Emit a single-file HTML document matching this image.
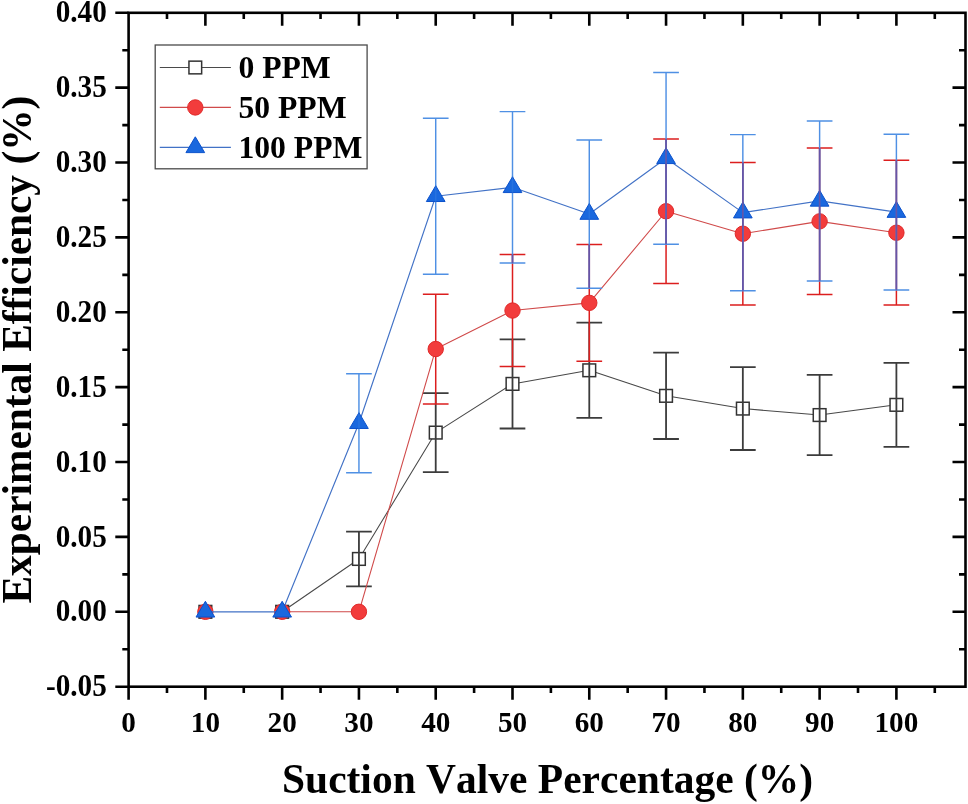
<!DOCTYPE html>
<html><head><meta charset="utf-8"><title>Chart</title><style>
html,body{margin:0;padding:0;background:#fff;}
body{width:968px;height:804px;overflow:hidden;}
svg{display:block;will-change:transform;}
text{font-family:"Liberation Serif",serif;font-weight:bold;fill:#000;font-variant-ligatures:none;font-kerning:none;font-feature-settings:"liga" 0,"clig" 0;}
</style></head><body>
<svg width="968" height="804" viewBox="0 0 968 804">
<rect width="968" height="804" fill="#fff"/>
<polyline points="282.16,611.8 358.94,558.95 435.72,432.6 512.5,383.9 589.28,370.3 666.06,395.85 742.84,408.6 819.62,415.05 896.4,404.85" fill="none" stroke="#484848" stroke-width="1.05" stroke-linejoin="round"/>
<rect x="199.03" y="605.45" width="12.7" height="12.7" fill="#fff" stroke="#333333" stroke-width="1.5"/>
<rect x="275.81" y="605.45" width="12.7" height="12.7" fill="#fff" stroke="#333333" stroke-width="1.5"/>
<rect x="352.59" y="552.6" width="12.7" height="12.7" fill="#fff" stroke="#333333" stroke-width="1.5"/>
<rect x="429.37" y="426.25" width="12.7" height="12.7" fill="#fff" stroke="#333333" stroke-width="1.5"/>
<rect x="506.15" y="377.55" width="12.7" height="12.7" fill="#fff" stroke="#333333" stroke-width="1.5"/>
<rect x="582.93" y="363.95" width="12.7" height="12.7" fill="#fff" stroke="#333333" stroke-width="1.5"/>
<rect x="659.71" y="389.5" width="12.7" height="12.7" fill="#fff" stroke="#333333" stroke-width="1.5"/>
<rect x="736.49" y="402.25" width="12.7" height="12.7" fill="#fff" stroke="#333333" stroke-width="1.5"/>
<rect x="813.27" y="408.7" width="12.7" height="12.7" fill="#fff" stroke="#333333" stroke-width="1.5"/>
<rect x="890.05" y="398.5" width="12.7" height="12.7" fill="#fff" stroke="#333333" stroke-width="1.5"/>
<path d="M358.94,531.6 V586.3 M346.09,531.6 H371.79 M346.09,586.3 H371.79" stroke="#3c3c3c" stroke-width="1.8" fill="none"/>
<path d="M435.72,393.1 V472.1 M422.87,393.1 H448.57 M422.87,472.1 H448.57" stroke="#3c3c3c" stroke-width="1.8" fill="none"/>
<path d="M512.5,339.3 V428.5 M499.65,339.3 H525.35 M499.65,428.5 H525.35" stroke="#3c3c3c" stroke-width="1.8" fill="none"/>
<path d="M589.28,322.7 V417.9 M576.43,322.7 H602.13 M576.43,417.9 H602.13" stroke="#3c3c3c" stroke-width="1.8" fill="none"/>
<path d="M666.06,352.7 V439 M653.21,352.7 H678.91 M653.21,439 H678.91" stroke="#3c3c3c" stroke-width="1.8" fill="none"/>
<path d="M742.84,367.2 V450 M729.99,367.2 H755.69 M729.99,450 H755.69" stroke="#3c3c3c" stroke-width="1.8" fill="none"/>
<path d="M819.62,374.9 V455.2 M806.77,374.9 H832.47 M806.77,455.2 H832.47" stroke="#3c3c3c" stroke-width="1.8" fill="none"/>
<path d="M896.4,362.8 V446.9 M883.55,362.8 H909.25 M883.55,446.9 H909.25" stroke="#3c3c3c" stroke-width="1.8" fill="none"/>
<polyline points="282.16,611.8 358.94,611.8 435.72,349.05 512.5,310.55 589.28,302.85 666.06,211.25 742.84,233.7 819.62,221.35 896.4,232.7" fill="none" stroke="#d04a4a" stroke-width="1.1" stroke-linejoin="round"/>
<path d="M435.72,294.2 V403.9 M422.87,294.2 H448.57 M422.87,403.9 H448.57" stroke="#dc1e1e" stroke-width="1.5" fill="none"/>
<path d="M512.5,254.6 V366.5 M499.65,254.6 H525.35 M499.65,366.5 H525.35" stroke="#dc1e1e" stroke-width="1.5" fill="none"/>
<path d="M589.28,244.5 V361.2 M576.43,244.5 H602.13 M576.43,361.2 H602.13" stroke="#dc1e1e" stroke-width="1.5" fill="none"/>
<path d="M666.06,139.1 V283.4 M653.21,139.1 H678.91 M653.21,283.4 H678.91" stroke="#dc1e1e" stroke-width="1.5" fill="none"/>
<path d="M742.84,162.5 V304.9 M729.99,162.5 H755.69 M729.99,304.9 H755.69" stroke="#dc1e1e" stroke-width="1.5" fill="none"/>
<path d="M819.62,148.1 V294.6 M806.77,148.1 H832.47 M806.77,294.6 H832.47" stroke="#dc1e1e" stroke-width="1.5" fill="none"/>
<path d="M896.4,160.3 V305.1 M883.55,160.3 H909.25 M883.55,305.1 H909.25" stroke="#dc1e1e" stroke-width="1.5" fill="none"/>
<circle cx="205.38" cy="611.8" r="7.7" fill="#f23c3c" stroke="#e02a2a" stroke-width="1"/>
<circle cx="282.16" cy="611.8" r="7.7" fill="#f23c3c" stroke="#e02a2a" stroke-width="1"/>
<circle cx="358.94" cy="611.8" r="7.7" fill="#f23c3c" stroke="#e02a2a" stroke-width="1"/>
<circle cx="435.72" cy="349.05" r="7.7" fill="#f23c3c" stroke="#e02a2a" stroke-width="1"/>
<circle cx="512.5" cy="310.55" r="7.7" fill="#f23c3c" stroke="#e02a2a" stroke-width="1"/>
<circle cx="589.28" cy="302.85" r="7.7" fill="#f23c3c" stroke="#e02a2a" stroke-width="1"/>
<circle cx="666.06" cy="211.25" r="7.7" fill="#f23c3c" stroke="#e02a2a" stroke-width="1"/>
<circle cx="742.84" cy="233.7" r="7.7" fill="#f23c3c" stroke="#e02a2a" stroke-width="1"/>
<circle cx="819.62" cy="221.35" r="7.7" fill="#f23c3c" stroke="#e02a2a" stroke-width="1"/>
<circle cx="896.4" cy="232.7" r="7.7" fill="#f23c3c" stroke="#e02a2a" stroke-width="1"/>
<polyline points="205.38,611.8 282.16,611.8 358.94,423.2 435.72,196.25 512.5,187.3 589.28,214.05 666.06,158.3 742.84,212.65 819.62,200.9 896.4,212.1" fill="none" stroke="#4272c6" stroke-width="1.15" stroke-linejoin="round"/>
<path d="M358.94,373.7 V472.7 M346.09,373.7 H371.79 M346.09,472.7 H371.79" stroke="#4f90e4" stroke-width="1.45" fill="none"/>
<path d="M435.72,118.2 V274.3 M422.87,118.2 H448.57 M422.87,274.3 H448.57" stroke="#4f90e4" stroke-width="1.45" fill="none"/>
<path d="M512.5,111.6 V263 M499.65,111.6 H525.35 M499.65,263 H525.35" stroke="#4f90e4" stroke-width="1.45" fill="none"/>
<path d="M589.28,139.9 V288.2 M576.43,139.9 H602.13 M576.43,288.2 H602.13" stroke="#4f90e4" stroke-width="1.45" fill="none"/>
<path d="M666.06,72.4 V244.2 M653.21,72.4 H678.91 M653.21,244.2 H678.91" stroke="#4f90e4" stroke-width="1.45" fill="none"/>
<path d="M742.84,134.6 V290.7 M729.99,134.6 H755.69 M729.99,290.7 H755.69" stroke="#4f90e4" stroke-width="1.45" fill="none"/>
<path d="M819.62,120.9 V280.9 M806.77,120.9 H832.47 M806.77,280.9 H832.47" stroke="#4f90e4" stroke-width="1.45" fill="none"/>
<path d="M896.4,134.3 V289.9 M883.55,134.3 H909.25 M883.55,289.9 H909.25" stroke="#4f90e4" stroke-width="1.45" fill="none"/>
<path d="M205.38,601.27 L214.73,617.07 L196.03,617.07 Z" fill="#1a68de" stroke="#0c52cc" stroke-width="1" stroke-linejoin="miter"/>
<path d="M282.16,601.27 L291.51,617.07 L272.81,617.07 Z" fill="#1a68de" stroke="#0c52cc" stroke-width="1" stroke-linejoin="miter"/>
<path d="M358.94,412.67 L368.29,428.47 L349.59,428.47 Z" fill="#1a68de" stroke="#0c52cc" stroke-width="1" stroke-linejoin="miter"/>
<path d="M435.72,185.72 L445.07,201.52 L426.37,201.52 Z" fill="#1a68de" stroke="#0c52cc" stroke-width="1" stroke-linejoin="miter"/>
<path d="M512.5,176.77 L521.85,192.57 L503.15,192.57 Z" fill="#1a68de" stroke="#0c52cc" stroke-width="1" stroke-linejoin="miter"/>
<path d="M589.28,203.52 L598.63,219.32 L579.93,219.32 Z" fill="#1a68de" stroke="#0c52cc" stroke-width="1" stroke-linejoin="miter"/>
<path d="M666.06,147.77 L675.41,163.57 L656.71,163.57 Z" fill="#1a68de" stroke="#0c52cc" stroke-width="1" stroke-linejoin="miter"/>
<path d="M742.84,202.12 L752.19,217.92 L733.49,217.92 Z" fill="#1a68de" stroke="#0c52cc" stroke-width="1" stroke-linejoin="miter"/>
<path d="M819.62,190.37 L828.97,206.17 L810.27,206.17 Z" fill="#1a68de" stroke="#0c52cc" stroke-width="1" stroke-linejoin="miter"/>
<path d="M896.4,201.57 L905.75,217.37 L887.05,217.37 Z" fill="#1a68de" stroke="#0c52cc" stroke-width="1" stroke-linejoin="miter"/>
<path d="M358.94,411.2 V429.2" stroke="#4f90e4" stroke-width="1.5" opacity="0.25"/>
<path d="M435.72,184.25 V202.25" stroke="#4f90e4" stroke-width="1.5" opacity="0.25"/>
<path d="M512.5,175.3 V193.3" stroke="#4f90e4" stroke-width="1.5" opacity="0.25"/>
<path d="M589.28,202.05 V220.05" stroke="#4f90e4" stroke-width="1.5" opacity="0.25"/>
<path d="M666.06,146.3 V164.3" stroke="#4f90e4" stroke-width="1.5" opacity="0.25"/>
<path d="M742.84,200.65 V218.65" stroke="#4f90e4" stroke-width="1.5" opacity="0.25"/>
<path d="M819.62,188.9 V206.9" stroke="#4f90e4" stroke-width="1.5" opacity="0.25"/>
<path d="M896.4,200.1 V218.1" stroke="#4f90e4" stroke-width="1.5" opacity="0.25"/>
<path d="M512.5,254.6 V263" stroke="#6555a8" stroke-width="1.6" fill="none"/>
<path d="M589.28,244.5 V288.2" stroke="#6555a8" stroke-width="1.6" fill="none"/>
<path d="M666.06,139.1 V244.2" stroke="#6555a8" stroke-width="1.6" fill="none"/>
<path d="M742.84,162.5 V290.7" stroke="#6555a8" stroke-width="1.6" fill="none"/>
<path d="M819.62,148.1 V280.9" stroke="#6555a8" stroke-width="1.6" fill="none"/>
<path d="M896.4,160.3 V289.9" stroke="#6555a8" stroke-width="1.6" fill="none"/>
<g stroke="#000" stroke-width="2.6" fill="none" stroke-linecap="butt">
<rect x="128.6" y="12.8" width="836.9" height="673.9"/>
<path d="M115.3,686.68H128.6M122.3,649.24H128.6M965.5,649.24H959M115.3,611.8H128.6M965.5,611.8H952.5M122.3,574.36H128.6M965.5,574.36H959M115.3,536.92H128.6M965.5,536.92H952.5M122.3,499.48H128.6M965.5,499.48H959M115.3,462.04H128.6M965.5,462.04H952.5M122.3,424.6H128.6M965.5,424.6H959M115.3,387.16H128.6M965.5,387.16H952.5M122.3,349.72H128.6M965.5,349.72H959M115.3,312.28H128.6M965.5,312.28H952.5M122.3,274.84H128.6M965.5,274.84H959M115.3,237.4H128.6M965.5,237.4H952.5M122.3,199.96H128.6M965.5,199.96H959M115.3,162.52H128.6M965.5,162.52H952.5M122.3,125.08H128.6M965.5,125.08H959M115.3,87.64H128.6M965.5,87.64H952.5M122.3,50.2H128.6M965.5,50.2H959M115.3,12.76H128.6M128.6,686.7V699.8M166.99,686.7V693M166.99,12.8V19M205.38,686.7V699.8M205.38,12.8V25.8M243.77,686.7V693M243.77,12.8V19M282.16,686.7V699.8M282.16,12.8V25.8M320.55,686.7V693M320.55,12.8V19M358.94,686.7V699.8M358.94,12.8V25.8M397.33,686.7V693M397.33,12.8V19M435.72,686.7V699.8M435.72,12.8V25.8M474.11,686.7V693M474.11,12.8V19M512.5,686.7V699.8M512.5,12.8V25.8M550.89,686.7V693M550.89,12.8V19M589.28,686.7V699.8M589.28,12.8V25.8M627.67,686.7V693M627.67,12.8V19M666.06,686.7V699.8M666.06,12.8V25.8M704.45,686.7V693M704.45,12.8V19M742.84,686.7V699.8M742.84,12.8V25.8M781.23,686.7V693M781.23,12.8V19M819.62,686.7V699.8M819.62,12.8V25.8M858.01,686.7V693M858.01,12.8V19M896.4,686.7V699.8M896.4,12.8V25.8M934.79,686.7V693M934.79,12.8V19"/>
</g>
<text transform="translate(106.8,696.28) scale(1,1.05)" font-size="29.2" text-anchor="end">-0.05</text>
<text transform="translate(106.8,621.4) scale(1,1.05)" font-size="29.2" text-anchor="end">0.00</text>
<text transform="translate(106.8,546.52) scale(1,1.05)" font-size="29.2" text-anchor="end">0.05</text>
<text transform="translate(106.8,471.64) scale(1,1.05)" font-size="29.2" text-anchor="end">0.10</text>
<text transform="translate(106.8,396.76) scale(1,1.05)" font-size="29.2" text-anchor="end">0.15</text>
<text transform="translate(106.8,321.88) scale(1,1.05)" font-size="29.2" text-anchor="end">0.20</text>
<text transform="translate(106.8,247) scale(1,1.05)" font-size="29.2" text-anchor="end">0.25</text>
<text transform="translate(106.8,172.12) scale(1,1.05)" font-size="29.2" text-anchor="end">0.30</text>
<text transform="translate(106.8,97.24) scale(1,1.05)" font-size="29.2" text-anchor="end">0.35</text>
<text transform="translate(106.8,22.36) scale(1,1.05)" font-size="29.2" text-anchor="end">0.40</text>
<text transform="translate(128.6,732.3) scale(1,1.04)" font-size="29.2" text-anchor="middle">0</text>
<text transform="translate(205.38,732.3) scale(1,1.04)" font-size="29.2" text-anchor="middle">10</text>
<text transform="translate(282.16,732.3) scale(1,1.04)" font-size="29.2" text-anchor="middle">20</text>
<text transform="translate(358.94,732.3) scale(1,1.04)" font-size="29.2" text-anchor="middle">30</text>
<text transform="translate(435.72,732.3) scale(1,1.04)" font-size="29.2" text-anchor="middle">40</text>
<text transform="translate(512.5,732.3) scale(1,1.04)" font-size="29.2" text-anchor="middle">50</text>
<text transform="translate(589.28,732.3) scale(1,1.04)" font-size="29.2" text-anchor="middle">60</text>
<text transform="translate(666.06,732.3) scale(1,1.04)" font-size="29.2" text-anchor="middle">70</text>
<text transform="translate(742.84,732.3) scale(1,1.04)" font-size="29.2" text-anchor="middle">80</text>
<text transform="translate(819.62,732.3) scale(1,1.04)" font-size="29.2" text-anchor="middle">90</text>
<text transform="translate(896.4,732.3) scale(1,1.04)" font-size="29.2" text-anchor="middle">100</text>
<text transform="translate(282,792.5) scale(1,1.035)" font-size="41.5" text-anchor="start">Suction Valve Percentage (%)</text>
<text transform="translate(30.6,603.5) rotate(-90) scale(1,1.025)" font-size="41.38">Experimental Efficiency (%)</text>
<rect x="155.2" y="45" width="211.9" height="123.8" fill="#fff" stroke="#4a4a4a" stroke-width="1.3"/>
<path d="M159.8,67.5H230.9" stroke="#4a4a4a" stroke-width="1.2"/>
<rect x="188.95" y="61.15" width="12.7" height="12.7" fill="#fff" stroke="#333333" stroke-width="1.5"/>
<path d="M159.8,107.45H230.9" stroke="#d04a4a" stroke-width="1.3"/>
<circle cx="195.3" cy="107.45" r="7.7" fill="#f23c3c" stroke="#e02a2a" stroke-width="1"/>
<path d="M159.8,147.35H230.9" stroke="#4272c6" stroke-width="1.3"/>
<path d="M195.3,136.82 L204.65,152.62 L185.95,152.62 Z" fill="#1a68de" stroke="#0c52cc" stroke-width="1" stroke-linejoin="miter"/>
<text transform="translate(238.4,78.3) scale(1,1.025)" font-size="31.7" text-anchor="start">0 PPM</text>
<text transform="translate(238.4,118.25) scale(1,1.025)" font-size="31.7" text-anchor="start">50 PPM</text>
<text transform="translate(238.4,158.15) scale(1,1.025)" font-size="31.7" text-anchor="start">100 PPM</text>
</svg>
</body></html>
